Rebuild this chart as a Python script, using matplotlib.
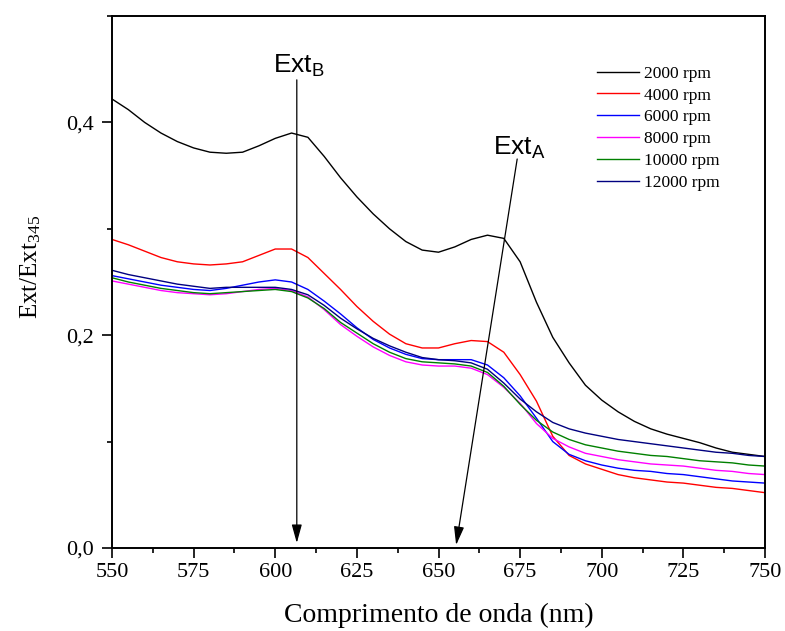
import matplotlib
matplotlib.use("Agg")
import matplotlib.pyplot as plt
from matplotlib.ticker import MultipleLocator, FixedLocator

plt.rcParams['font.family'] = ['Liberation Serif', 'DejaVu Serif']
plt.rcParams['mathtext.default'] = 'regular'

wavelength = [550, 555, 560, 565, 570, 575, 580, 585, 590, 595, 600, 605, 610, 615, 620,
              625, 630, 635, 640, 645, 650, 655, 660, 665, 670, 675, 680, 685, 690, 695,
              700, 705, 710, 715, 720, 725, 730, 735, 740, 745, 750]

rpm_2000 = [0.422, 0.412, 0.400, 0.390, 0.382, 0.376, 0.372, 0.371, 0.372, 0.378, 0.385,
            0.390, 0.386, 0.368, 0.348, 0.330, 0.314, 0.300, 0.288, 0.280, 0.278, 0.283,
            0.290, 0.294, 0.291, 0.269, 0.231, 0.198, 0.174, 0.153, 0.139, 0.128, 0.119,
            0.112, 0.107, 0.103, 0.099, 0.094, 0.090, 0.088, 0.086]
rpm_4000 = [0.290, 0.285, 0.279, 0.273, 0.269, 0.267, 0.266, 0.267, 0.269, 0.275, 0.281,
            0.281, 0.273, 0.258, 0.243, 0.227, 0.213, 0.201, 0.192, 0.188, 0.188, 0.192,
            0.195, 0.194, 0.184, 0.163, 0.138, 0.105, 0.087, 0.079, 0.074, 0.069, 0.066,
            0.064, 0.062, 0.061, 0.059, 0.057, 0.056, 0.054, 0.052]
rpm_6000 = [0.256, 0.253, 0.250, 0.247, 0.245, 0.243, 0.242, 0.244, 0.247, 0.250, 0.252,
            0.250, 0.243, 0.232, 0.220, 0.207, 0.196, 0.188, 0.182, 0.178, 0.177, 0.177,
            0.177, 0.172, 0.160, 0.143, 0.122, 0.100, 0.088, 0.082, 0.078, 0.075, 0.073,
            0.072, 0.070, 0.069, 0.067, 0.065, 0.063, 0.062, 0.061]
rpm_8000 = [0.251, 0.248, 0.245, 0.242, 0.240, 0.239, 0.238, 0.239, 0.241, 0.243, 0.244,
            0.242, 0.236, 0.224, 0.210, 0.199, 0.189, 0.181, 0.175, 0.172, 0.171, 0.171,
            0.169, 0.163, 0.151, 0.136, 0.117, 0.103, 0.095, 0.089, 0.086, 0.083, 0.081,
            0.079, 0.078, 0.077, 0.075, 0.073, 0.072, 0.070, 0.069]
rpm_10000 = [0.254, 0.250, 0.247, 0.244, 0.242, 0.240, 0.239, 0.240, 0.241, 0.242, 0.243,
             0.241, 0.235, 0.225, 0.212, 0.202, 0.192, 0.184, 0.178, 0.175, 0.174, 0.173,
             0.171, 0.165, 0.152, 0.135, 0.120, 0.109, 0.102, 0.097, 0.094, 0.091, 0.089,
             0.087, 0.086, 0.084, 0.082, 0.081, 0.080, 0.078, 0.077]
rpm_12000 = [0.261, 0.257, 0.254, 0.251, 0.248, 0.246, 0.244, 0.245, 0.245, 0.245, 0.245,
             0.243, 0.238, 0.228, 0.216, 0.206, 0.197, 0.190, 0.184, 0.179, 0.177, 0.176,
             0.174, 0.168, 0.155, 0.140, 0.128, 0.118, 0.112, 0.108, 0.105, 0.102, 0.100,
             0.098, 0.096, 0.094, 0.092, 0.090, 0.089, 0.087, 0.086]

series_labels = ['2000 rpm', '4000 rpm', '6000 rpm', '8000 rpm', '10000 rpm', '12000 rpm']
series_values = [rpm_2000, rpm_4000, rpm_6000, rpm_8000, rpm_10000, rpm_12000]
colors = ['#000000', '#ff0000', '#0000ff', '#ff00ff', '#008000', '#000080']

y_ticks = [0.0, 0.2, 0.4]
y_ticklabels = ['0,0', '0,2', '0,4']
x_ticks = [550, 575, 600, 625, 650, 675, 700, 725, 750]

fig = plt.figure(figsize=(7.85, 6.31), dpi=100)
ax = fig.add_axes([112/785, 1-548/631, 653/785, 532/631])

for vals, lab, c in zip(series_values, series_labels, colors):
    ax.plot(wavelength, vals, color=c, lw=1.0, label=lab)

ax.set_xlim(550, 750)
ax.set_ylim(0, 0.5)
ax.xaxis.set_major_locator(FixedLocator(x_ticks))
ax.xaxis.set_minor_locator(MultipleLocator(12.5))
ax.yaxis.set_major_locator(FixedLocator(y_ticks))
ax.yaxis.set_minor_locator(MultipleLocator(0.1))
ax.set_yticklabels(y_ticklabels)
ax.set_xticklabels([str(t) for t in x_ticks])
ax.tick_params(which='major', direction='out', length=7, width=1.2, labelsize=16, pad=4,
               top=False, right=False)
ax.tick_params(which='minor', direction='out', length=3.5, width=1.2, top=False, right=False)
ax.tick_params(axis='y', which='major', pad=6)
for s in ax.spines.values():
    s.set_linewidth(1.4)

ax.set_xlabel('Comprimento de onda (nm)', fontsize=20)
ax.xaxis.set_label_coords(0.5, -0.103)
ax.set_ylabel(r'Ext/Ext$_\mathregular{345}$', fontsize=18)
ax.yaxis.set_label_coords(-0.106, 0.528)

leg = ax.legend(loc='upper left', bbox_to_anchor=(0.7427, 0.907), frameon=False,
                fontsize=12.5, handlelength=2.4, handletextpad=0.3, labelspacing=0.33,
                borderpad=0, borderaxespad=0)

# annotations
ax.annotate('', xy=(606.6, 0.0047), xytext=(606.6, 0.44),
            arrowprops=dict(arrowstyle='-|>,head_length=0.8,head_width=0.22', color='k',
                            lw=0.9, shrinkA=0, shrinkB=0, mutation_scale=14))
ax.text(599.3, 0.447, r'Ext$_\mathregular{B}$', fontsize=19, family='Liberation Sans',
        ha='left', va='baseline')
ax.annotate('', xy=(655.4, 0.0028), xytext=(674.1, 0.3656),
            arrowprops=dict(arrowstyle='-|>,head_length=0.8,head_width=0.22', color='k',
                            lw=0.9, shrinkA=0, shrinkB=0, mutation_scale=14))
ax.text(666.7, 0.370, r'Ext$_\mathregular{A}$', fontsize=19, family='Liberation Sans',
        ha='left', va='baseline')

fig.savefig('out.png', dpi=100)
